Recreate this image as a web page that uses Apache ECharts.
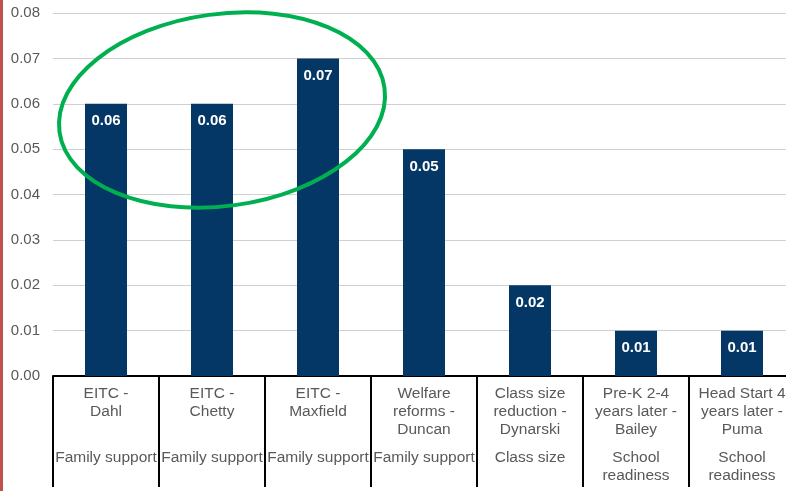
<!DOCTYPE html>
<html>
<head>
<meta charset="utf-8">
<script src="https://cdn.jsdelivr.net/npm/echarts@6/dist/echarts.min.js"></script>
<style>
  html, body { margin: 0; padding: 0; background: #fff; overflow: hidden; }
  /* a bit wider than the window: the last column is cut off on the right like the source */
  #chart { width: 800px; height: 491px; }
</style>
</head>
<body>
<div id="chart"></div>
<script>
// data
const categories = [
  'EITC -\nDahl',
  'EITC -\nChetty',
  'EITC -\nMaxfield',
  'Welfare\nreforms -\nDuncan',
  'Class size\nreduction -\nDynarski',
  'Pre-K 2-4\nyears later -\nBailey',
  'Head Start 4\nyears later -\nPuma'
]
const groups = [
  'Family support',
  'Family support',
  'Family support',
  'Family support',
  'Class size',
  'School\nreadiness',
  'School\nreadiness'
]
const values = [0.06, 0.06, 0.07, 0.05, 0.02, 0.01, 0.01]

const labelFont = 'Liberation Sans, Arial, sans-serif'

const chart = echarts.init(document.getElementById('chart'))

chart.setOption({
  animation: false,
  grid: { left: 53, top: 13, bottom: 115, width: 742, containLabel: false },
  xAxis: [
    {
      type: 'category',
      data: categories,
      axisLine: { lineStyle: { color: '#000', width: 2 } },
      axisTick: { show: true, interval: 0, length: 111, lineStyle: { color: '#000', width: 2 } },
      axisLabel: {
        interval: 0, margin: 9, color: '#595959',
        fontFamily: labelFont, fontSize: 15.5, lineHeight: 18
      }
    },
    {
      type: 'category',
      position: 'bottom',
      data: groups,
      axisLine: { show: false },
      axisTick: { show: false },
      axisLabel: {
        interval: 0, margin: 73, color: '#595959',
        fontFamily: labelFont, fontSize: 15.5, lineHeight: 18
      }
    }
  ],
  yAxis: {
    type: 'value',
    min: 0,
    max: 0.08,
    interval: 0.01,
    axisLine: { show: false },
    axisTick: { show: false },
    axisLabel: {
      margin: 13, color: '#595959', fontFamily: labelFont, fontSize: 15,
      formatter: (v) => v.toFixed(2)
    },
    splitLine: { lineStyle: { color: '#d0d0d0', width: 1 } }
  },
  series: [
    {
      type: 'bar',
      data: values,
      barWidth: 42,
      itemStyle: { color: '#053766' },
      label: {
        show: true,
        position: 'insideTop',
        distance: 10,
        color: '#fff',
        fontWeight: 'bold',
        fontFamily: labelFont,
        fontSize: 15,
        formatter: (p) => p.value.toFixed(2)
      }
    }
  ],
  graphic: [
    {
      type: 'rect',
      left: 0, top: 0,
      shape: { width: 3, height: 491 },
      style: { fill: '#c0504d' }
    },
    {
      type: 'ellipse',
      x: 222, y: 110,
      rotation: 0.135,
      shape: { cx: 0, cy: 0, rx: 164, ry: 96 },
      style: { fill: 'none', stroke: '#00b050', lineWidth: 4 },
      z: 100
    }
  ]
})
</script>
</body>
</html>
